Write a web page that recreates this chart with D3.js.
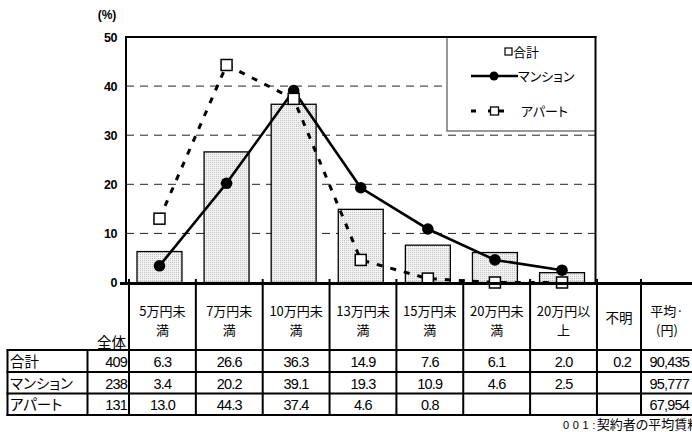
<!DOCTYPE html>
<html><head><meta charset="utf-8">
<script src="https://cdn.jsdelivr.net/npm/d3@7"></script>
<style>
body{margin:0;background:#fff}
svg{display:block}
text{font-family:"Liberation Sans",Arial,"Noto Sans CJK JP",sans-serif;fill:#000}
.jp{font-family:"Noto Sans CJK JP",sans-serif;font-feature-settings:"palt"}
.num{font-family:"Liberation Sans",Arial,sans-serif;letter-spacing:-0.8px}
</style></head><body>
<svg id="c" width="692" height="432"></svg>
<script>
// ---------- data ----------
const categories = ["5万円未満","7万円未満","10万円未満","13万円未満","15万円未満","20万円未満","20万円以上"];
const headerLabels = [["5万円未","満"],["7万円未","満"],["10万円未","満"],["13万円未","満"],["15万円未","満"],["20万円未","満"],["20万円以","上"],["不明"],["平均·","(円)"]];
const seriesNames = ["合計","マンション","アパート"];
const totalValues   = [6.3, 26.6, 36.3, 14.9, 7.6, 6.1, 2.0];
const mansionValues = [3.4, 20.2, 39.1, 19.3, 10.9, 4.6, 2.5];
const apartValues   = [13.0, 44.3, 37.4, 4.6, 0.8, null, null];
const countN   = [409, 238, 131];
const unknownValues = [0.2, null, null];
const averageRent   = [90435, 95777, 67954];
const yTicks = [0, 10, 20, 30, 40, 50];
const footnote = ["001:", "契約者の平均賃料"];

// ---------- setup ----------
const svg = d3.select("#c");
const plotL = 126, plotR = 595.5, plotT = 37, plotB = 282.5;
const x = d3.scaleBand().domain(categories).range([plotL, plotR]).paddingInner(0.33).paddingOuter(0.164);
const y = d3.scaleLinear().domain([0, 50]).range([plotB, plotT]);
const cx = c => x(c) + x.bandwidth() / 2;

// bar pattern
const defs = svg.append("defs");
const pat = defs.append("pattern").attr("id","dots").attr("width",2).attr("height",2).attr("patternUnits","userSpaceOnUse");
pat.append("rect").attr("width",2).attr("height",2).attr("fill","#f2f2f2");
pat.append("rect").attr("width",1).attr("height",1).attr("fill","#c4c4c4");

// gridlines
svg.append("g").selectAll("line").data(yTicks.filter(t => t > 0 && t < 50)).join("line")
  .attr("x1", plotL).attr("x2", plotR).attr("y1", d => y(d)).attr("y2", d => y(d))
  .attr("stroke", "#222").attr("stroke-width", 1).attr("stroke-dasharray", "8,6");

// bars
svg.append("g").selectAll("rect").data(totalValues).join("rect")
  .attr("x", (d,i) => x(categories[i])).attr("width", x.bandwidth())
  .attr("y", d => y(d)).attr("height", d => y(0) - y(d))
  .attr("fill", "url(#dots)").attr("stroke", "#000").attr("stroke-width", 1.3);

// legend box (white, over gridlines)
svg.append("rect").attr("x", 447).attr("y", plotT).attr("width", plotR - 447).attr("height", 94)
  .attr("fill", "#fff").attr("stroke", "#333").attr("stroke-width", 1);

// y axis labels
svg.append("g").selectAll("text").data(yTicks).join("text")
  .attr("x", 117).attr("y", d => y(d)).attr("dy", "0.36em").attr("text-anchor", "end")
  .attr("font-size", 12.5).attr("font-weight", "bold").attr("letter-spacing", -0.5).text(d => d);
svg.append("text").attr("x", 107).attr("y", 19).attr("text-anchor", "middle")
  .attr("font-size", 12).attr("font-weight", "bold").text("(%)");

// mansion line
const lineM = d3.line().x((d,i) => cx(categories[i])).y(d => y(d));
svg.append("path").datum(mansionValues).attr("d", lineM).attr("fill", "none")
  .attr("stroke", "#000").attr("stroke-width", 2.6);
svg.append("g").selectAll("circle").data(mansionValues).join("circle")
  .attr("cx", (d,i) => cx(categories[i])).attr("cy", d => y(d)).attr("r", 5.8).attr("fill", "#000");

// apart line (dashed)
const lineA = d3.line().x((d,i) => cx(categories[i])).y(d => y(d ?? 0));
svg.append("path").datum(apartValues).attr("d", lineA).attr("fill", "none")
  .attr("stroke", "#000").attr("stroke-width", 3).attr("stroke-dasharray", "6,8");
svg.append("g").selectAll("rect").data(apartValues).join("rect")
  .attr("x", (d,i) => cx(categories[i]) - 5.5).attr("y", d => y(d ?? 0) - 5.5)
  .attr("width", 11).attr("height", 11).attr("fill", "#fff").attr("stroke", "#000").attr("stroke-width", 1.5);

// plot frame
const frame = svg.append("g").attr("stroke", "#000");
frame.append("line").attr("x1", plotL).attr("x2", plotR + 1).attr("y1", plotT).attr("y2", plotT).attr("stroke-width", 2);
frame.append("line").attr("x1", plotL).attr("x2", plotL).attr("y1", plotT - 1).attr("y2", 284).attr("stroke-width", 2);
frame.append("line").attr("x1", plotR).attr("x2", plotR).attr("y1", plotT - 1).attr("y2", 284).attr("stroke-width", 2);

// legend content
const lg = svg.append("g");
lg.append("rect").attr("x", 505).attr("y", 48).attr("width", 7).attr("height", 7).attr("fill", "#fff").attr("stroke", "#000").attr("stroke-width", 1.2);
lg.append("text").attr("class", "jp").attr("x", 513).attr("y", 57).attr("font-size", 13).text(seriesNames[0]);
lg.append("line").attr("x1", 471).attr("x2", 518).attr("y1", 76).attr("y2", 76).attr("stroke", "#000").attr("stroke-width", 2.6);
lg.append("circle").attr("cx", 494).attr("cy", 76).attr("r", 4.5).attr("fill", "#000");
lg.append("text").attr("class", "jp").attr("x", 518).attr("y", 81).attr("font-size", 13).text(seriesNames[1]);
lg.append("line").attr("x1", 471).attr("x2", 507).attr("y1", 111).attr("y2", 111).attr("stroke", "#000").attr("stroke-width", 3).attr("stroke-dasharray", "5,12,5,6,5");
lg.append("rect").attr("x", 490.5).attr("y", 107).attr("width", 8).attr("height", 8).attr("fill", "#fff").attr("stroke", "#000").attr("stroke-width", 1.3);
lg.append("text").attr("class", "jp").attr("x", 521).attr("y", 116).attr("font-size", 13).text(seriesNames[2]);

// ---------- table ----------
const colEdges = d3.range(8).map(i => 129 + i * 66.85).concat([641, 693]);
const rowEdges = [350, 372, 393.5, 415];
const tLeft = 7.5, nCol = 87.5;
const tg = svg.append("g");
const tl = tg.append("g").attr("stroke", "#000").attr("stroke-width", 2);
// bottom axis / table top
tl.append("line").attr("x1", 120).attr("x2", 692).attr("y1", 283.5).attr("y2", 283.5).attr("stroke-width", 3);
// verticals in header + body
colEdges.slice(0, 10).forEach(xx => tl.append("line").attr("x1", xx).attr("x2", xx).attr("y1", 279).attr("y2", 415));
tl.append("line").attr("x1", tLeft).attr("x2", tLeft).attr("y1", 350).attr("y2", 416);
tl.append("line").attr("x1", nCol).attr("x2", nCol).attr("y1", 350).attr("y2", 415);
rowEdges.forEach(yy => tl.append("line").attr("x1", tLeft - 1).attr("x2", 692).attr("y1", yy).attr("y2", yy));

// header texts
headerLabels.forEach((lines, i) => {
  const mx = (colEdges[i] + colEdges[i + 1]) / 2;
  if (lines.length === 1) {
    tg.append("text").attr("class", "jp").attr("text-anchor", "middle").attr("font-size", 13.5)
      .attr("x", mx).attr("y", 323).text(lines[0]);
  } else {
    lines.forEach((s, k) => tg.append("text").attr("class", "jp").attr("text-anchor", "middle")
      .attr("font-size", 13).attr("x", mx).attr("y", 315.5 + k * 19).text(s));
  }
});
tg.append("text").attr("class", "jp").attr("x", 126).attr("y", 348).attr("text-anchor", "end").attr("font-size", 14.5).text("全体");

// rows
const fmt1 = d3.format(".1f"), fmtC = d3.format(",");
const rowSeries = [totalValues, mansionValues, apartValues];
seriesNames.forEach((name, r) => {
  const by = rowEdges[r] + 16.5;
  tg.append("text").attr("class", "jp").attr("x", 10).attr("y", by).attr("font-size", 14.5).text(name);
  tg.append("text").attr("class", "num").attr("x", 127).attr("y", by).attr("text-anchor", "end").attr("font-size", 14.5).text(countN[r]);
  rowSeries[r].forEach((v, i) => {
    if (v == null) return;
    tg.append("text").attr("class", "num").attr("x", (colEdges[i] + colEdges[i + 1]) / 2).attr("y", by)
      .attr("text-anchor", "middle").attr("font-size", 14.5).text(fmt1(v));
  });
  if (unknownValues[r] != null)
    tg.append("text").attr("class", "num").attr("x", 631).attr("y", by).attr("text-anchor", "end").attr("font-size", 14.5).text(fmt1(unknownValues[r]));
  tg.append("text").attr("class", "num").attr("x", 689).attr("y", by).attr("text-anchor", "end").attr("font-size", 14.5).text(fmtC(averageRent[r]));
});

// footnote
const fn = svg.append("text").attr("x", 563).attr("y", 429).attr("font-size", 13);
fn.append("tspan").attr("font-size", 11).attr("letter-spacing", 3.6).text(footnote[0]);
fn.append("tspan").attr("class", "jp").attr("dx", -2).text(footnote[1]);
</script>
</body></html>
